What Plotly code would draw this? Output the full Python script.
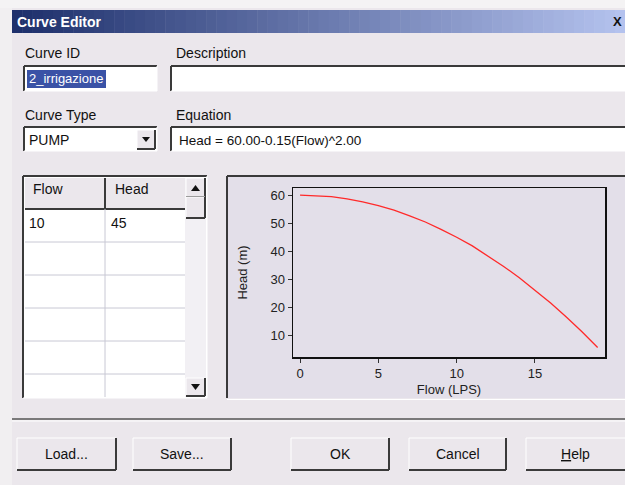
import plotly.graph_objects as go

W, H = 625, 485

# ---- data ----
flow = [0, 1, 2, 3, 4, 5, 6, 7, 8, 9, 10, 11, 12, 13, 14, 15, 16, 17, 18, 19]
head = [60.0, 59.8, 59.4, 58.6, 57.6, 56.2, 54.6, 52.6, 50.4, 47.8, 45.0,
        41.9, 38.4, 34.6, 30.6, 26.2, 21.6, 16.6, 11.4, 5.8]
x_ticks = [0, 5, 10, 15]
y_ticks = [10, 20, 30, 40, 50, 60]
table_flow = ["10"]
table_head = ["45"]
curve_id = "2_irrigazione"
curve_type = "PUMP"
equation = "Head = 60.00-0.15(Flow)^2.00"
buttons = ["Load...", "Save...", "OK", "Cancel", "<u>H</u>elp"]

BODY = "#ebe7ec"
PANEL = "#e3dfe9"
DARK = "#3a3a3a"
FONT = "Liberation Sans Narrow, Liberation Sans, Arial"
LBL = 14

def X(p):
    return p / W

def Y(p):
    return 1 - p / H

shapes = []
annotations = []

def rect(x0, y0, x1, y1, fill, line=None, lw=0, layer="below"):
    shapes.append(dict(type="rect", xref="paper", yref="paper",
                       x0=X(x0), x1=X(x1), y0=Y(y1), y1=Y(y0),
                       fillcolor=fill, layer=layer,
                       line=dict(color=line or fill, width=lw)))

def seg(x0, y0, x1, y1, color, lw=1, layer="below"):
    shapes.append(dict(type="line", xref="paper", yref="paper",
                       x0=X(x0), x1=X(x1), y0=Y(y0), y1=Y(y1),
                       layer=layer, line=dict(color=color, width=lw)))

def text(x, y, s, size=LBL, color="#111", anchor="left", bold=False, font=FONT):
    if bold:
        s = "<b>" + s + "</b>"
    annotations.append(dict(xref="paper", yref="paper", x=X(x), y=Y(y),
                            text=s, showarrow=False, xanchor=anchor,
                            yanchor="middle",
                            font=dict(size=size, color=color, family=font)))

def sunken(x0, y0, x1, y1, fill="white"):
    rect(x0, y0, x1, y1, fill)
    seg(x0, y0, x1, y0, DARK, 2)
    seg(x0, y0, x0, y1, DARK, 2)
    seg(x0, y1, x1, y1, "#ffffff", 1)
    seg(x1, y0, x1, y1, "#ffffff", 1)

def raised(x0, y0, x1, y1, fill=BODY):
    rect(x0, y0, x1, y1, fill)
    seg(x0, y0, x1, y0, "#ffffff", 1)
    seg(x0, y0, x0, y1, "#ffffff", 1)
    seg(x0, y1, x1, y1, DARK, 2)
    seg(x1, y0, x1, y1, DARK, 2)

def tri(pts):
    p = "M " + " L ".join("%f %f" % (X(a), Y(b)) for a, b in pts) + " Z"
    shapes.append(dict(type="path", xref="paper", yref="paper", path=p,
                       fillcolor="#111", line=dict(width=0), layer="below"))

# window background
rect(0, 0, W, 8, "#f4f3f4")
rect(0, 8, 12, H, "#f1eff1")
rect(12, 8, W, H, BODY)

# title bar gradient
n = 60
c0 = (30, 48, 108)
c1 = (180, 194, 238)
for i in range(n):
    t = i / (n - 1)
    c = tuple(int(c0[k] + (c1[k] - c0[k]) * t) for k in range(3))
    xa = 12 + (W - 12) * i / n
    xb = 12 + (W - 12) * (i + 1) / n + 0.5
    rect(xa, 10, xb, 33, "rgb(%d,%d,%d)" % c)
text(15, 22, "Curve Editor", size=14, color="white", bold=True, font="Liberation Sans, Arial")
text(624, 22, "<b>X</b>", size=13, color="#111", anchor="right", font="Liberation Sans, Arial")

# Curve ID
text(23, 53, "Curve ID")
sunken(24, 66, 157, 91)
rect(27, 70, 106, 88, "#3a52a6")
text(27, 79, curve_id, size=13, color="white")

# Description
text(174, 53, "Description")
sunken(171, 66, W + 2, 91)

# Curve Type
text(23, 115, "Curve Type")
sunken(24, 127, 157, 151)
text(27, 140, curve_type, size=14)
raised(137, 130, 155, 149)
tri([(142, 137), (150, 137), (146, 142)])

# Equation
text(174, 115, "Equation")
sunken(171, 127, W + 2, 151)
text(177, 140, equation, size=13.5)

# Table
sunken(23, 176, 207, 398)
rect(25, 178, 185, 209, BODY)
seg(25, 209, 185, 209, DARK, 2)
seg(105, 178, 105, 209, DARK, 2)
seg(105, 209, 105, 397, "#c8c8d4", 1)
for ry in [242, 275, 308, 341, 374]:
    seg(25, ry, 185, ry, "#c8c8d4", 1)
text(31, 189, "Flow")
text(113, 189, "Head")
for i, (f, h) in enumerate(zip(table_flow, table_head)):
    text(27, 223 + 33 * i, f)
    text(109, 223 + 33 * i, h)
rect(185, 178, 206, 397, "#f2f0f4")
raised(186, 178, 205, 197)
raised(186, 197, 205, 218)
raised(186, 378, 205, 396)
tri([(191, 191), (200, 191), (195.5, 185)])
tri([(191, 384), (200, 384), (195.5, 390)])

# Chart panel
rect(227, 176, W, 398, PANEL)
seg(227, 176, W, 176, DARK, 2)
seg(227, 176, 227, 398, DARK, 2)
seg(227, 399.5, W, 399.5, "#ffffff", 1)

# separator
seg(12, 419, W, 419, "#555555", 1.5)
seg(12, 421, W, 421, "#ffffff", 1)

# buttons
bx = [(17, 116), (133, 231), (291, 389), (409, 506), (526, W + 2)]
for (b0, b1), lab in zip(bx, buttons):
    raised(b0, 438, b1, 470)
    text((b0 + min(b1, W - 1)) / 2, 454, lab, size=14, anchor="center")

fig = go.Figure()
fig.add_trace(go.Scatter(x=flow, y=head, mode="lines",
                         line=dict(color="#ff2a2a", width=1.3),
                         hoverinfo="skip", showlegend=False))

tickfont = dict(size=13, color="#222", family="Liberation Sans, Arial")
fig.update_layout(
    width=W, height=H,
    margin=dict(l=0, r=0, t=0, b=0),
    paper_bgcolor=BODY,
    plot_bgcolor=PANEL,
    shapes=shapes,
    annotations=annotations,
    xaxis=dict(domain=[X(293), X(605)], range=[-0.45, 19.47],
               tickvals=x_ticks, ticks="outside", ticklen=4, tickcolor="#333",
               showgrid=False, zeroline=False, showline=True, linecolor="#111",
               linewidth=1.5, mirror=True, tickfont=tickfont,
               title=dict(text="Flow (LPS)", font=dict(size=13, color="#222", family="Liberation Sans, Arial"), standoff=5)),
    yaxis=dict(domain=[Y(357), Y(188)], range=[2.4, 62.5],
               tickvals=y_ticks, ticks="outside", ticklen=4, tickcolor="#333",
               showgrid=False, zeroline=False, showline=True, linecolor="#111",
               linewidth=1.5, mirror=True, tickfont=tickfont,
               title=dict(text="Head (m)", font=dict(size=13, color="#222", family="Liberation Sans, Arial"), standoff=20)),
)

fig.write_html("out.html", config={"displayModeBar": False, "staticPlot": True},
               post_script="document.body.style.margin='0px';document.body.style.overflow='hidden';")
